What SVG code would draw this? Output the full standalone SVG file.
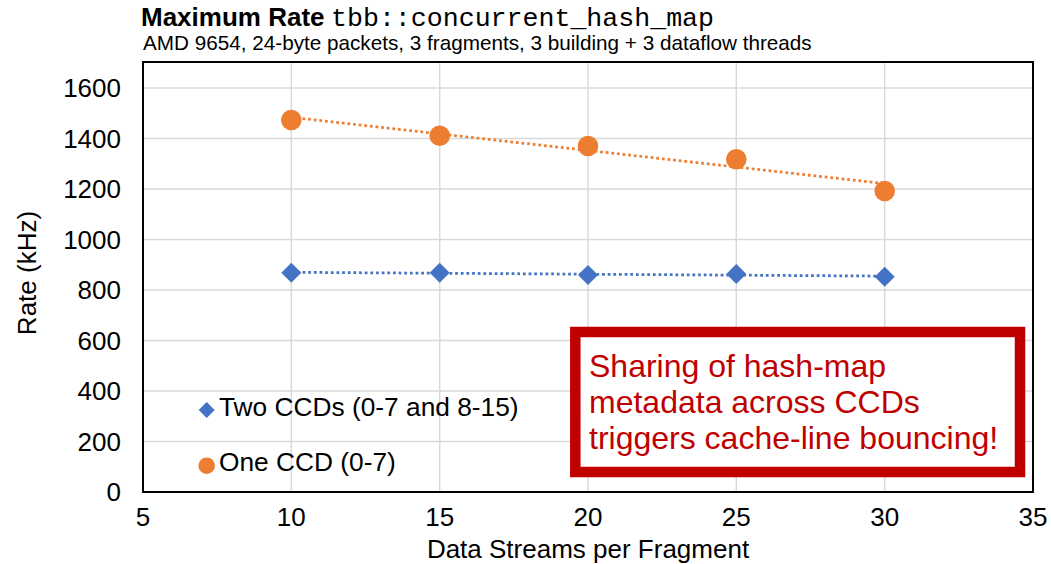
<svg xmlns="http://www.w3.org/2000/svg" width="1051" height="564" viewBox="0 0 1051 564">
  <style>
    .txt { font-family: "Liberation Sans", Arial, Helvetica, sans-serif; fill: #000; }
    .tick { font-size: 26px; }
    .ytick { text-anchor: end; }
    .xtick { text-anchor: middle; }
    .grid line { stroke: #D9D9D9; stroke-width: 1.4; }
    .trend { fill: none; stroke-width: 2.75; stroke-dasharray: 2.75 2.9; }
    .orange { fill: #ED7D31; }
    .blue { fill: #4472C4; }
    .callout-text { font-family: "Liberation Sans", Arial, Helvetica, sans-serif; font-size: 32px; fill: #C00000; }
  </style>
  <defs>
    <polygon id="diamond" points="0,-10 10,0 0,10 -10,0" />
    <polygon id="diamond-sm" points="0,-8 8,0 0,8 -8,0" />
  </defs>

  <rect width="1051" height="564" fill="#FFFFFF" />

  <!-- Title -->
  <g id="title">
    <text class="txt" x="141" y="26" font-size="26" font-weight="bold">Maximum Rate</text>
    <text x="331" y="26" font-family="'Liberation Mono', 'Courier New', monospace" font-size="26.6" fill="#000">tbb::concurrent_hash_map</text>
    <text class="txt" x="143" y="50" font-size="20.7">AMD 9654, 24-byte packets, 3 fragments, 3 building + 3 dataflow threads</text>
  </g>

  <!-- Gridlines -->
  <g id="gridlines" class="grid">
    <line x1="143" y1="441.5" x2="1033" y2="441.5" />
    <line x1="143" y1="391" x2="1033" y2="391" />
    <line x1="143" y1="340.5" x2="1033" y2="340.5" />
    <line x1="143" y1="290" x2="1033" y2="290" />
    <line x1="143" y1="239.5" x2="1033" y2="239.5" />
    <line x1="143" y1="189" x2="1033" y2="189" />
    <line x1="143" y1="138.5" x2="1033" y2="138.5" />
    <line x1="143" y1="88" x2="1033" y2="88" />
    <line x1="291.3" y1="62" x2="291.3" y2="492" />
    <line x1="439.7" y1="62" x2="439.7" y2="492" />
    <line x1="588" y1="62" x2="588" y2="492" />
    <line x1="736.3" y1="62" x2="736.3" y2="492" />
    <line x1="884.7" y1="62" x2="884.7" y2="492" />
  </g>

  <!-- Plot frame -->
  <rect id="plot-frame" x="143" y="62" width="890" height="430" fill="none" stroke="#000" stroke-width="2" />

  <!-- Axis tick labels -->
  <g id="y-ticks" class="txt tick ytick">
    <text x="121" y="501">0</text>
    <text x="121" y="450.5">200</text>
    <text x="121" y="400">400</text>
    <text x="121" y="349.5">600</text>
    <text x="121" y="299">800</text>
    <text x="121" y="248.5">1000</text>
    <text x="121" y="198">1200</text>
    <text x="121" y="147.5">1400</text>
    <text x="121" y="97">1600</text>
  </g>
  <g id="x-ticks" class="txt tick xtick">
    <text x="143" y="526">5</text>
    <text x="291.3" y="526">10</text>
    <text x="439.7" y="526">15</text>
    <text x="588" y="526">20</text>
    <text x="736.3" y="526">25</text>
    <text x="884.7" y="526">30</text>
    <text x="1033" y="526">35</text>
  </g>

  <!-- Axis titles -->
  <text id="x-title" class="txt" x="588" y="558" font-size="26" text-anchor="middle">Data Streams per Fragment</text>
  <text id="y-title" class="txt" transform="translate(36,273) rotate(-90)" font-size="26" text-anchor="middle">Rate (kHz)</text>

  <!-- Linear trendlines -->
  <g id="trendlines">
    <line class="trend" x1="291.3" y1="117.3" x2="884.7" y2="183.6" stroke="#ED7D31" />
    <line class="trend" x1="291.3" y1="272.3" x2="884.7" y2="276.1" stroke="#4472C4" />
  </g>

  <!-- Series: One CCD (0-7) -->
  <g id="series-one-ccd" class="orange">
    <circle cx="291.3" cy="120" r="10.3" />
    <circle cx="439.7" cy="135.7" r="10.3" />
    <circle cx="588" cy="146" r="10.3" />
    <circle cx="736.3" cy="159.3" r="10.3" />
    <circle cx="884.7" cy="191" r="10.3" />
  </g>

  <!-- Series: Two CCDs (0-7 and 8-15) -->
  <g id="series-two-ccds" class="blue">
    <use href="#diamond" x="291.3" y="272.7" />
    <use href="#diamond" x="439.7" y="272.7" />
    <use href="#diamond" x="588" y="275" />
    <use href="#diamond" x="736.3" y="274" />
    <use href="#diamond" x="884.7" y="276.7" />
  </g>

  <!-- Legend -->
  <g id="legend">
    <use href="#diamond-sm" x="206.7" y="410" class="blue" />
    <text class="txt" x="219" y="416" font-size="26.3">Two CCDs (0-7 and 8-15)</text>
    <circle cx="206.7" cy="465.7" r="8.3" class="orange" />
    <text class="txt" x="219" y="471" font-size="26.3">One CCD (0-7)</text>
  </g>

  <!-- Callout -->
  <g id="callout">
    <rect x="575.3" y="332" width="444.7" height="140" fill="#FFFFFF" stroke="#C00000" stroke-width="10.5" />
    <text class="callout-text" x="589" y="377.3">Sharing of hash-map</text>
    <text class="callout-text" x="589" y="413.3">metadata across CCDs</text>
    <text class="callout-text" x="589" y="449.3">triggers cache-line bouncing!</text>
  </g>
</svg>
